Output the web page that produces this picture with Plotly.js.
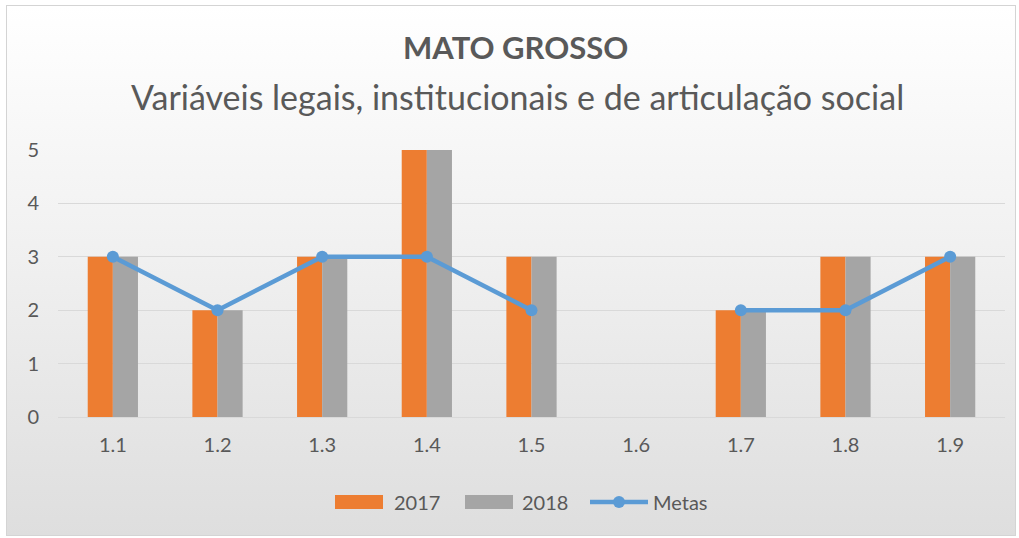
<!DOCTYPE html>
<html><head><meta charset="utf-8">
<script src="https://cdn.plot.ly/plotly-3.0.1.min.js"></script>
<style>
html,body{margin:0;padding:0;background:#fff;}
#frame{position:absolute;left:6px;top:5px;width:1010px;height:531px;box-sizing:border-box;border:1px solid #d4d4d4;
background:linear-gradient(to bottom,#ffffff 0%,#f1f1f1 45%,#dedede 100%);}
#chart{position:absolute;left:0;top:0;width:1019px;height:538px;}
</style></head>
<body><div id="frame"></div><div id="chart"></div>
<script>
const categories = ['1.1','1.2','1.3','1.4','1.5','1.6','1.7','1.8','1.9'];
const values2017 = [3,2,3,5,3,null,2,3,3];
const values2018 = [3,2,3,5,3,null,2,3,3];
const metas = [3,2,3,3,2,null,2,2,3];
const seriesNames = ['2017','2018','Metas'];
const titleMain = 'MATO GROSSO';
const titleSub = 'Variáveis legais, institucionais e de articulação social';
const font = 'Lato, "Open Sans", sans-serif';
const txt = '#595959';
const cOrange = '#ed7d31', cGray = '#a5a5a5', cBlue = '#5b9bd5';
// pixel -> paper helpers (plot area 58..1005 x, 150..417 y)
const PX = p => (p - 58) / 947;
const PY = p => (417 - p) / 267;
const data = [
 {type:'bar', name:seriesNames[0], x:categories, y:values2017, marker:{color:cOrange}},
 {type:'bar', name:seriesNames[1], x:categories, y:values2018, marker:{color:cGray}},
 {type:'scatter', mode:'lines+markers', name:seriesNames[2], x:categories, y:metas, connectgaps:false,
  line:{color:cBlue, width:4.5}, marker:{color:cBlue, size:12}}
];
const legY = 502;
const shapes = [
 {type:'rect', xref:'paper', yref:'paper', x0:PX(335), x1:PX(383), y0:PY(509), y1:PY(495), fillcolor:cOrange, line:{width:0}},
 {type:'rect', xref:'paper', yref:'paper', x0:PX(465), x1:PX(513), y0:PY(509), y1:PY(495), fillcolor:cGray, line:{width:0}},
 {type:'line', xref:'paper', yref:'paper', x0:PX(590), x1:PX(648), y0:PY(legY), y1:PY(legY), line:{color:cBlue, width:4.5}},
 {type:'circle', xref:'paper', yref:'paper', x0:PX(613), x1:PX(625), y0:PY(legY+6), y1:PY(legY-6), fillcolor:cBlue, line:{width:0}}
];
const legAnn = [[392, seriesNames[0]],[520, seriesNames[1]],[651, seriesNames[2]]].map(([x,t]) => (
 {text:t, xref:'paper', yref:'paper', x:PX(x), y:PY(legY), xanchor:'left', yanchor:'middle', showarrow:false, font:{size:20, color:txt, family:font}}));
const layout = {
 width:1019, height:538,
 paper_bgcolor:'rgba(0,0,0,0)', plot_bgcolor:'rgba(0,0,0,0)',
 margin:{l:58, r:14, t:150, b:121},
 barmode:'group', bargap:0.52, bargroupgap:0,
 font:{family:font, color:txt, size:20},
 showlegend:false,
 xaxis:{type:'category', showgrid:false, zeroline:false, showline:false, ticks:'', ticklabelstandoff:14, tickfont:{size:20, color:txt}},
 yaxis:{range:[0,5], dtick:1, showgrid:true, gridcolor:'#d9d9d9', gridwidth:1, zeroline:true, zerolinecolor:'#d9d9d9', showline:false, ticks:'', ticklabelstandoff:18, tickfont:{size:20, color:txt}},
 shapes: shapes,
 annotations:[
  {text:'<b>'+titleMain+'</b>', xref:'paper', yref:'paper', x:PX(515), y:PY(47), xanchor:'center', yanchor:'middle', showarrow:false, font:{size:31, color:txt, family:font}},
  {text:titleSub, xref:'paper', yref:'paper', x:PX(517), y:PY(97), xanchor:'center', yanchor:'middle', showarrow:false, font:{size:34, color:txt, family:font}}
 ].concat(legAnn)
};
Plotly.newPlot('chart', data, layout, {displayModeBar:false, staticPlot:true});
</script></body></html>
